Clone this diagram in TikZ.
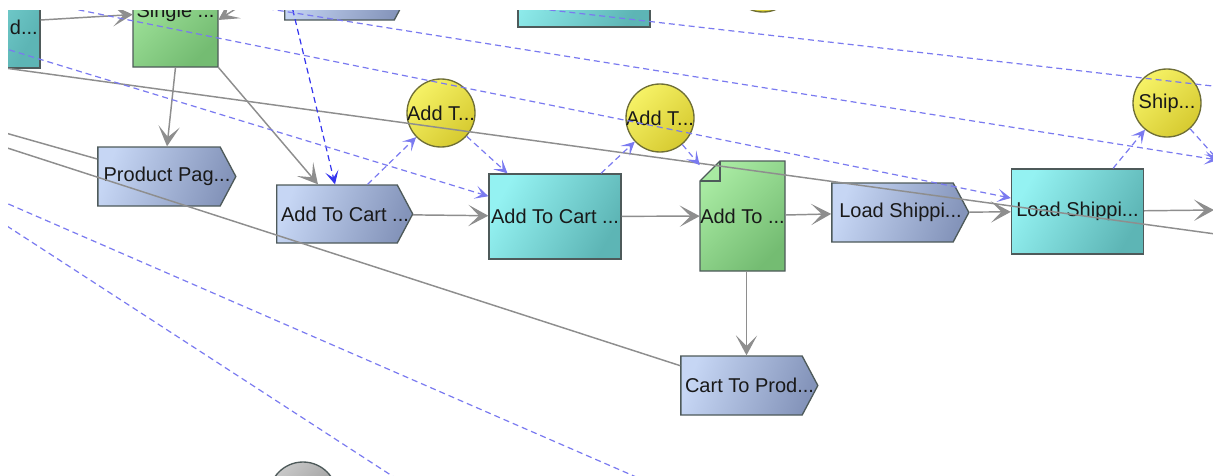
\documentclass[tikz,border=0pt]{standalone}
\usepackage{fontspec}
\setmainfont{Liberation Sans}
\usetikzlibrary{arrows.meta,shapes.symbols}

\definecolor{cyanL}{HTML}{94F2F2}
\definecolor{cyanR}{HTML}{5DB5B5}
\definecolor{blueL}{HTML}{C6D6F4}
\definecolor{blueR}{HTML}{8494BA}
\definecolor{greenL}{HTML}{A8EAA2}
\definecolor{greenR}{HTML}{74BC72}
\definecolor{yelL}{HTML}{F6F266}
\definecolor{yelR}{HTML}{D6CA30}
\definecolor{yelrim}{HTML}{6E6E36}
\definecolor{grayL}{HTML}{C8C8C8}
\definecolor{grayR}{HTML}{8E8E8E}
\definecolor{rim}{HTML}{4E5A5A}
\definecolor{flow}{HTML}{8E8E8E}
\definecolor{dep}{HTML}{7A7AF0}
\definecolor{depdark}{HTML}{3434EE}

\tikzset{
  txt/.style={font=\fontsize{15}{18}\selectfont, text=black!90, inner sep=0pt},
  cyanbox/.style={rectangle, draw=rim, line width=1pt, top color=cyanL, bottom color=cyanR,
    shading angle=60, minimum width=99pt, minimum height=63.75pt, inner sep=0pt},
  pentbox/.style={signal, signal to=east, signal pointer angle=124, draw=rim, line width=1pt,
    top color=blueL, bottom color=blueR, shading angle=70,
    minimum width=102.75pt, minimum height=44.25pt, inner sep=0pt},
  penttxt/.style={txt, xshift=6pt},
  docbox/.style={rectangle, minimum width=63.75pt, minimum height=82.5pt, inner sep=0pt},
  docfill/.style={draw=rim, line width=1pt, top color=greenL, bottom color=greenR, shading angle=45},
  event/.style={circle, draw=yelrim, line width=1pt, top color=yelL, bottom color=yelR,
    shading angle=45, minimum size=51pt, inner sep=0pt},
  grayevent/.style={event, draw=rim, top color=grayL, bottom color=grayR, shading angle=45},
  flowline/.style={draw=flow, line width=1.1pt},
  depline/.style={draw=dep, line width=0.9pt, dash pattern=on 4.5pt off 3pt},
  deptip/.style={-{Stealth[length=10pt,width=10pt,inset=5pt]}},
}

% green document with folded corner
\newcommand\docnode[4]{%
  \path[docfill] (#2-22.5,#3-55) -- (#2+42.5,#3-55) -- (#2+42.5,#3+55)
    -- (#2-42.5,#3+55) -- (#2-42.5,#3-35) -- cycle;
  \draw[rim, line width=1pt] (#2-22.5,#3-55) -- (#2-22.5,#3-35) -- (#2-42.5,#3-35);
  \node[docbox, label={[txt]center:#4}] (#1) at (#2,#3) {};
}

\begin{document}
\begin{tikzpicture}[x=0.75pt, y=-0.75pt, >={Stealth[length=15pt,width=16pt,inset=8pt]}]
  \useasboundingbox (0,0) rectangle (1213,475);
  \clip (8,10) rectangle (1213,475);

  % nodes
  \node[cyanbox, minimum height=72pt] (leftbox) at (-26,20) {};
  \node[txt, anchor=east] (lefttext) at (38,27) {d...};
  \docnode{single}{175.5}{12}{Single ...}
  \node[pentbox, minimum width=93.75pt, minimum height=43.5pt] (toppent) at (339.5,-9) {};
  \node[cyanbox] (topcyan) at (584,-15.5) {};
  \node[event] (topevent) at (763,-22) {};
  \node[pentbox, minimum width=103.5pt, label={[penttxt]center:Product Pag...}] (prodpage) at (159,176.5) {};
  \node[pentbox, minimum width=102pt, minimum height=43.5pt, label={[penttxt]center:Add To Cart ...}] (cartpent) at (337,214) {};
  \node[event, label={[txt]center:Add T...}] (addev1) at (441,113) {};
  \node[cyanbox, label={[txt]center:Add To Cart ...}] (cartbox) at (555,216.5) {};
  \node[event, label={[txt]center:Add T...}] (addev2) at (660,118) {};
  \docnode{addto}{742.5}{216}{Add To ...}
  \node[pentbox, label={[penttxt]center:Load Shippi...}] (loadpent) at (892.5,212.5) {};
  \node[cyanbox, label={[txt]center:Load Shippi...}] (loadbox) at (1077.5,211.5) {};
  \node[event, label={[txt]center:Ship...}] (shipev) at (1167,103) {};
  \node[pentbox, label={[penttxt]center:Cart To Prod...}] (cartprod) at (741.5,385.5) {};
  \node[grayevent] (grayev) at (303,496) {};

  % free ends outside the view
  \coordinate (sglin) at (262,-8);
  \coordinate (farL) at (-10,66);
  \coordinate (farR) at (1230,236);
  \coordinate (oneL) at (-5,130);
  \coordinate (twoL) at (-5,144);
  \coordinate (lineAin) at (100,-18);
  \coordinate (lineBin) at (0,-6);
  \coordinate (lineCin) at (-10,44);
  \coordinate (topin) at (480,2);
  \coordinate (topout) at (1230,88);
  \coordinate (vstart) at (288,-10);
  \coordinate (offR) at (1218,160);
  \coordinate (outR) at (1214,210);
  \coordinate (d1a) at (-10,215);
  \coordinate (d1b) at (420,494);
  \coordinate (d2a) at (-10,196);
  \coordinate (d2b) at (650,483);

  % flow connectors
  \draw[flowline, ->] (leftbox.east) -- (single);
  \draw[flowline, ->] (sglin) -- ([shift={(0,8)}]single.east);
  \draw[flowline, ->] (single.south) -- ([shift={(8,0)}]prodpage.north);
  \draw[flowline, ->] (single.south east) -- ([shift={(-19,0)}]cartpent.north);
  \draw[flowline, ->] (cartpent) -- (cartbox);
  \draw[flowline, ->] (cartbox) -- (addto);
  \draw[flowline, ->] (addto) -- (loadpent);
  \draw[flowline, ->] (loadpent) -- (loadbox);
  \draw[flowline, ->] (loadbox) -- (outR);
  \draw[flowline, ->] ([shift={(4,0)}]addto.south) -- ([shift={(4,0)}]addto.south |- cartprod.north);
  \draw[flowline] (farL) -- (farR);
  \draw[flowline] (oneL) -- (prodpage);
  \draw[flowline] (twoL) -- (cartprod);

  % dashed dependencies
  \draw[depline, deptip, draw=depdark] (vstart) -- ([shift={(-2,0)}]cartpent.north);
  \draw[depline, deptip] (cartpent) -- (addev1);
  \draw[depline, deptip] (addev1) -- (cartbox);
  \draw[depline, deptip] (cartbox) -- (addev2);
  \draw[depline, deptip] (addev2) -- (addto);
  \draw[depline, deptip] (loadbox) -- (shipev);
  \draw[depline, deptip] (shipev) -- (offR);
  \draw[depline, deptip] (lineAin) -- (offR);
  \draw[depline, deptip] (lineBin) -- (loadbox);
  \draw[depline, deptip] (lineCin) -- (cartbox);
  \draw[depline] (topin) -- (topout);
  \draw[depline] (d1a) -- (d1b);
  \draw[depline] (d2a) -- (d2b);
\end{tikzpicture}
\end{document}
